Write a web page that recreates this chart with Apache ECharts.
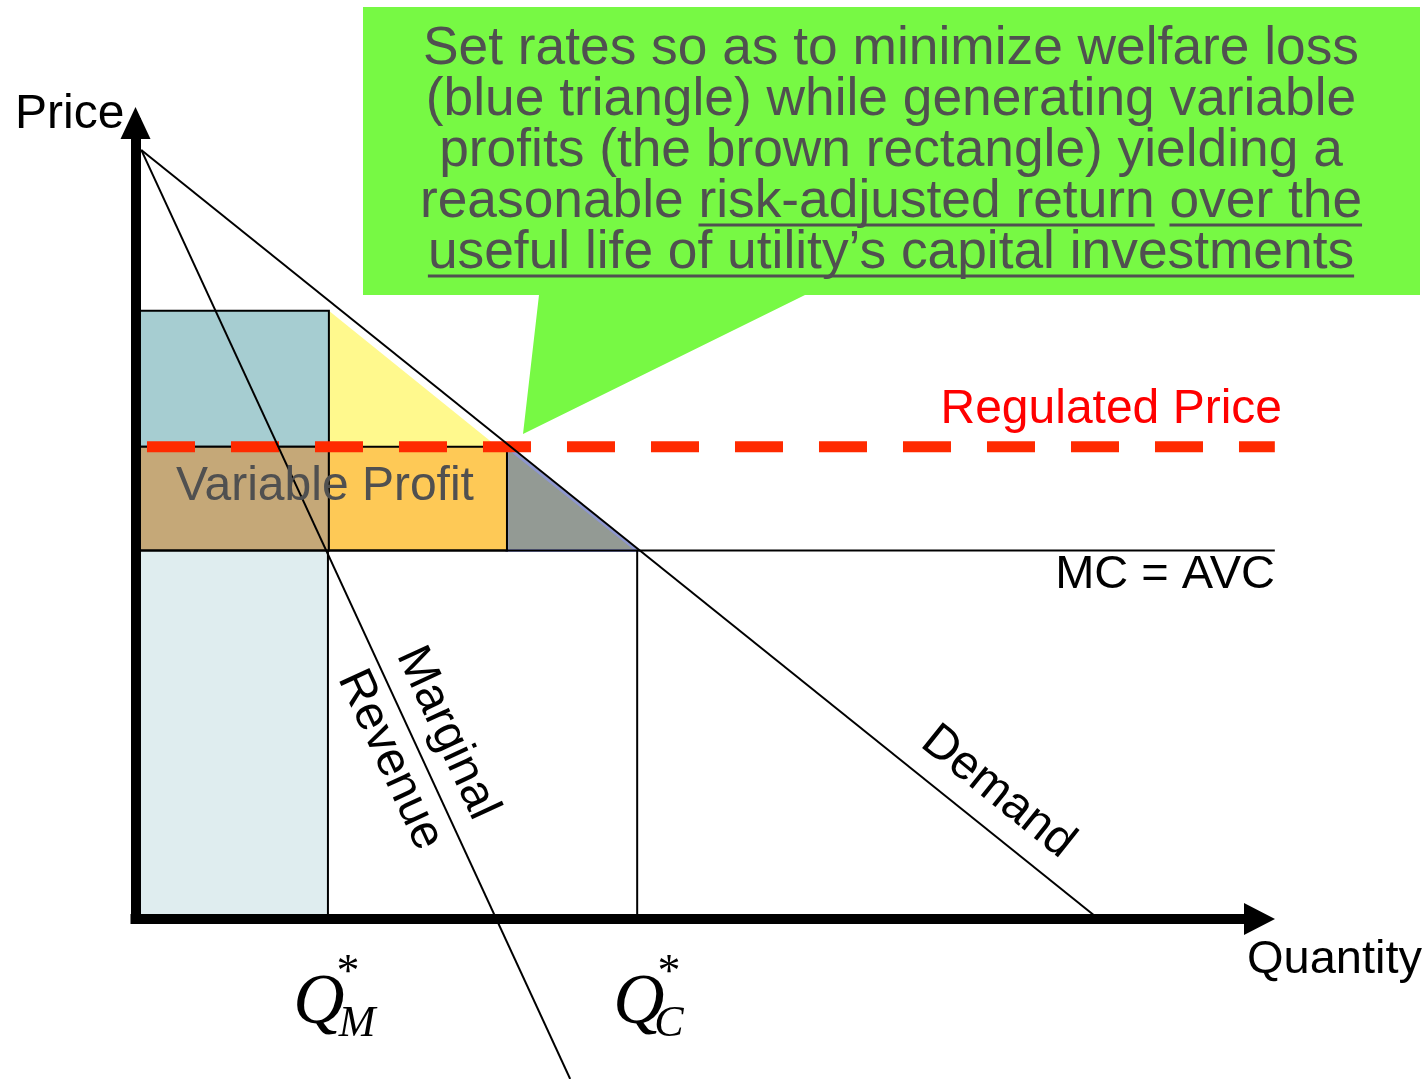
<!DOCTYPE html>
<html lang="en">

<head>
  <meta charset="UTF-8">
  <title>Regulated monopoly pricing</title>
  <script src="https://cdn.jsdelivr.net/npm/echarts@6/dist/echarts.min.js"></script>
  <style>
    body {
      margin: 0;
      padding: 0;
      background: #fff;
    }

    #chart {
      width: 1427px;
      height: 1079px;
    }
  </style>
</head>

<body>
  <div id="chart"></div>
  <script>
    // axis ranges (quantity, price)
    var xRange = [0, 117.4];
    var yRange = [0, 103.5];

    // curves
    var demandLine = [[0.6, 100], [100.6, 0]];
    var mrLine = [[0.6, 100], [45.4, -20.8]];
    var mcLine = [[0, 47.9], [119, 47.9]];
    var regulatedLine = [[1.2, 61.4], [119, 61.4]];
    var qmLine = [[20.1, 0], [20.1, 47.9]];
    var qcLine = [[52.4, 0], [52.4, 47.9]];

    // areas: [q0, q1, p0, p1]
    var costRect = [0, 20.1, 0, 47.9];
    var monoRect = [0, 20.2, 61.4, 79.1];
    var profitLeft = [0, 20.2, 47.9, 61.4];
    var profitRight = [20.2, 38.8, 47.9, 61.4];
    var gainTri = [[20.2, 79.1], [20.2, 61.4], [37.8, 61.4]];
    var lossTri = [[38.8, 61.4], [38.8, 47.9], [52.4, 47.9]];

    var callLines = [
      'Set rates so as to minimize welfare loss',
      '(blue triangle) while generating variable',
      'profits (the brown rectangle) yielding a',
      'reasonable risk-adjusted return over the',
      'useful life of utility\u2019s capital investments'
    ];

    var sans = '"Liberation Sans", Arial, sans-serif';
    var serif = '"Liberation Serif", "Times New Roman", serif';

    function rectPts(r) {
      return [[r[0], r[2]], [r[1], r[2]], [r[1], r[3]], [r[0], r[3]]];
    }

    // drawn in this order
    var shapes = [
      { kind: 'polygon', pts: rectPts(costRect), fill: '#dfedef' },
      { kind: 'polygon', pts: lossTri, fill: '#939a94', stroke: '#8e97cf', lw: 3 },
      { kind: 'polygon', pts: gainTri, fill: '#fff98d' },
      { kind: 'polygon', pts: rectPts(monoRect), fill: '#a6cdd1', stroke: '#000', lw: 2 },
      { kind: 'polygon', pts: rectPts(profitLeft), fill: '#c5a878', stroke: '#000', lw: 2 },
      { kind: 'polygon', pts: rectPts(profitRight), fill: '#fec956', stroke: '#000', lw: 2 },
      { kind: 'polyline', pts: qmLine, stroke: '#000', lw: 2 },
      { kind: 'polyline', pts: qcLine, stroke: '#000', lw: 2 },
      { kind: 'polyline', pts: mcLine, stroke: '#000', lw: 2 },
      { kind: 'polyline', pts: regulatedLine, stroke: '#ff2a00', lw: 11, dash: [48, 36] },
      { kind: 'polyline', pts: mrLine, stroke: '#000', lw: 2 },
      { kind: 'polyline', pts: demandLine, stroke: '#000', lw: 2 }
    ];

    // text width for underlines
    var ctx = document.createElement('canvas').getContext('2d');
    var callFont = '53.3px ' + sans;
    ctx.font = callFont;
    function tw(s) { return ctx.measureText(s).width; }

    var callCx = 891;
    var callY = [49, 100, 151, 202.5, 253.5];
    var graphics = [];

    // callout bubble
    graphics.push({
      type: 'polygon',
      shape: { points: [[363, 7], [1420, 7], [1420, 295], [805, 295], [523, 434], [539, 295], [363, 295]] },
      style: { fill: '#77f944' },
      z: 50
    });
    callLines.forEach(function (t, i) {
      graphics.push({
        type: 'text', x: callCx, y: callY[i], z: 51,
        style: { text: t, font: callFont, fill: '#505050', textAlign: 'center', textVerticalAlign: 'middle', align: 'center', verticalAlign: 'middle' }
      });
    });
    function underline(line, before, part) {
      var full = callLines[line];
      var left = callCx - tw(full) / 2 + tw(before);
      var y = callY[line] + 22.5;
      graphics.push({
        type: 'line', z: 51,
        shape: { x1: left, y1: y, x2: left + tw(part), y2: y },
        style: { stroke: '#505050', lineWidth: 3 }
      });
    }
    underline(3, 'reasonable ', 'risk-adjusted return');
    underline(3, 'reasonable risk-adjusted return ', 'over the');
    underline(4, '', callLines[4]);

    function label(text, x, y, opts) {
      opts = opts || {};
      graphics.push({
        type: 'text', x: x, y: y, z: 60, rotation: opts.rot || 0,
        style: {
          text: text,
          font: opts.font || ('48px ' + sans),
          fill: opts.color || '#000',
          textAlign: opts.align || 'center', align: opts.align || 'center',
          textVerticalAlign: 'middle', verticalAlign: 'middle'
        }
      });
    }
    label('Price', 15, 115, { align: 'left' });
    label('Quantity', 1247, 960, { align: 'left', font: '47px ' + sans });
    label('MC = AVC', 1275, 575, { align: 'right', font: '47px ' + sans });
    label('Regulated Price', 1282, 410, { align: 'right', color: '#ff0000' });
    label('Variable Profit', 325, 487, { color: '#505050' });
    label('Marginal', 447, 733, { rot: -65.2 * Math.PI / 180 });
    label('Revenue', 390, 760, { rot: -65.2 * Math.PI / 180 });
    label('Demand', 998, 792, { rot: -38.8 * Math.PI / 180 });

    // Q*_M and Q*_C
    [[319, 348, 'M', 357], [639, 669, 'C', 669]].forEach(function (q) {
      label('Q', q[0], 1004, { font: 'italic 71px ' + serif });
      label('*', q[1], 974, { font: '46px ' + serif });
      label(q[2], q[3], 1024, { font: 'italic 44px ' + serif });
    });

    var chart = echarts.init(document.getElementById('chart'));
    var axisCommon = {
      type: 'value',
      z: 10,
      axisTick: { show: false },
      axisLabel: { show: false },
      splitLine: { show: false }
    };

    chart.setOption({
      animation: false,
      grid: { left: 135.5, right: 167.5, top: 123, bottom: 160, outerBoundsMode: 'none' },
      xAxis: Object.assign({}, axisCommon, {
        min: xRange[0], max: xRange[1],
        axisLine: { show: true, symbol: ['none', 'triangle'], symbolSize: [32, 31], lineStyle: { color: '#000', width: 10, cap: 'square' } }
      }),
      yAxis: Object.assign({}, axisCommon, {
        min: yRange[0], max: yRange[1],
        axisLine: { show: true, symbol: ['none', 'triangle'], symbolSize: [30, 32], lineStyle: { color: '#000', width: 10, cap: 'square' } }
      }),
      graphic: { elements: graphics },
      series: [
        {
          type: 'custom',
          silent: true,
          clip: false,
          data: shapes.map(function (s) { return s.pts[0]; }),
          renderItem: function (params, api) {
            var s = shapes[params.dataIndex];
            var pts = s.pts.map(function (p) { return api.coord(p); });
            return {
              type: s.kind,
              shape: { points: pts },
              style: {
                fill: s.kind === 'polygon' ? s.fill : null,
                stroke: s.stroke || null,
                lineWidth: s.lw || 0,
                lineDash: s.dash || null,
                lineCap: 'butt'
              }
            };
          }
        }
      ]
    });
  </script>
</body>

</html>
